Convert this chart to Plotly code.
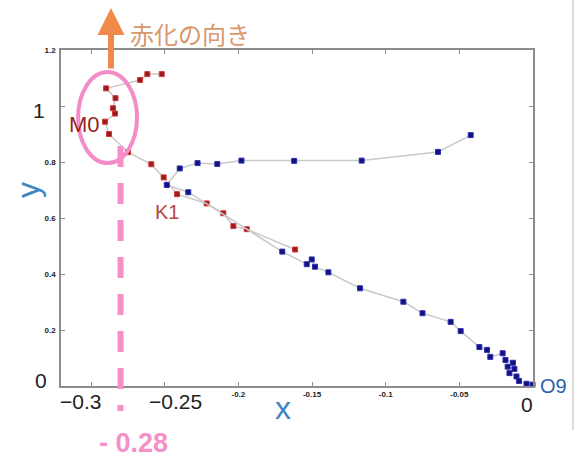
import plotly.graph_objects as go

# Red series (M0 -> K1 branch), ordered along its track
red_x = [-0.2520, -0.2618, -0.2667, -0.2898, -0.2834, -0.2851, -0.2837, -0.2905, -0.2878,
         -0.2749, -0.2591, -0.2507, -0.2416, -0.2215, -0.2102, -0.2034, -0.1943, -0.1615]
red_y = [1.114, 1.114, 1.093, 1.063, 1.028, 0.992, 0.973, 0.944, 0.900,
         0.835, 0.792, 0.745, 0.685, 0.652, 0.617, 0.571, 0.560, 0.4875]

# Blue series (upper branch -> O9), ordered along its track
blue_x = [-0.0423, -0.0645, -0.1163, -0.1621, -0.1979, -0.2143, -0.2277, -0.2398, -0.2486,
          -0.2340, -0.1702, -0.1536, -0.1502, -0.1480, -0.1389, -0.1174, -0.0880, -0.0750,
          -0.0559, -0.0491, -0.0364, -0.0312, -0.0290, -0.0206, -0.0187, -0.0136, -0.0172,
          -0.0126, -0.0160, -0.0112, -0.0095, -0.0044, -0.0003]
blue_y = [0.896, 0.836, 0.805, 0.804, 0.805, 0.793, 0.796, 0.777, 0.718,
          0.692, 0.480, 0.435, 0.452, 0.426, 0.406, 0.349, 0.301, 0.260,
          0.229, 0.196, 0.139, 0.129, 0.104, 0.117, 0.093, 0.083, 0.069,
          0.061, 0.046, 0.034, 0.018, 0.008, 0.005]

x_ticks = [-0.3, -0.25, -0.2, -0.15, -0.1, -0.05, 0.0]
x_tick_text = ["", "", "-0.2", "-0.15", "-0.1", "-0.05", ""]
y_ticks = [0.0, 0.2, 0.4, 0.6, 0.8, 1.0, 1.2]
y_tick_text = ["", "0.2", "0.4", "0.6", "0.8", "", "1.2"]

redshift_x = -0.28

W, H = 581, 464
L, R, T, B = 61, 533, 50, 386


def paper(px, py):
    return (px - L) / (R - L), (B - py) / (B - T)


fig = go.Figure()

fig.add_trace(go.Scatter(
    x=red_x, y=red_y, mode="lines+markers",
    line=dict(color="#c9c9c9", width=1.5),
    marker=dict(symbol="square", size=5, color="#9c1a1a", line=dict(color="#d23a3a", width=1)),
    cliponaxis=False, showlegend=False,
))
fig.add_trace(go.Scatter(
    x=blue_x, y=blue_y, mode="lines+markers",
    line=dict(color="#c9c9c9", width=1.5),
    marker=dict(symbol="square", size=5, color="#12127c", line=dict(color="#2f2fb4", width=1)),
    cliponaxis=False, showlegend=False,
))

axis_common = dict(
    showline=True, linecolor="#8c8c8c", linewidth=1.5, mirror="ticks",
    ticks="inside", ticklen=4, tickcolor="#8c8c8c", tickwidth=1,
    showgrid=False, zeroline=False,
    tickfont=dict(family="Liberation Sans", size=8, color="#222222", weight="bold"),
)

fig.update_xaxes(range=[-0.3204, 0.0], tickmode="array", tickvals=x_ticks,
                 ticktext=x_tick_text, **axis_common)
fig.update_yaxes(range=[0.0, 1.2], tickmode="array", tickvals=y_ticks,
                 ticktext=y_tick_text, ticklabelstandoff=2, **axis_common)

annotations = []


def label(text, px, py, size, color, bold=False, angle=0, family="Liberation Sans"):
    x, y = paper(px, py)
    annotations.append(dict(
        x=x, y=y, xref="paper", yref="paper", text=text, showarrow=False,
        xanchor="center", yanchor="middle", textangle=angle,
        font=dict(family=family, size=size, color=color, weight="bold" if bold else "normal"),
    ))


# large tick labels
label("\u22120.3", 80, 401, 21, "#222222")
label("\u22120.25", 175, 401, 21, "#222222")
label("0", 527, 404, 21, "#222222")
label("0", 41, 380, 21, "#222222")
label("1", 39, 110, 21, "#222222")

# axis names
label("x", 283, 408, 32, "#3d86c6")
label("y", 28, 190, 32, "#3d86c6", angle=-90)

# point names
label("M0", 84, 124, 22, "#962424")
label("K1", 167, 212, 20, "#b4483a")
label("O9", 553, 386, 20, "#2c5fb0")

# redshift direction
label("赤化の向き", 190, 34, 24, "#d9976c", family="Noto Sans CJK JP")
label("- 0.28", 133, 443, 27, "#f590c8", bold=True)

ax_, ay_ = paper(111, 8)
annotations.append(dict(
    x=ax_, y=ay_, xref="paper", yref="paper", text="", showarrow=True,
    ax=0, ay=62, axref="pixel", ayref="pixel",
    arrowhead=2, arrowsize=0.9, arrowwidth=6, arrowcolor="#f08a4b", standoff=0,
))

_, dash_top = paper(0, 146)
_, dash_bot = paper(0, 411)
_, border_top = paper(0, 0)
_, border_bot = paper(0, 430)
border_x, _ = paper(573, 0)

shapes = [
    # ellipse around the M0 turning point
    dict(type="circle", xref="x", yref="y", x0=-0.3088, x1=-0.2688, y0=0.796, y1=1.121,
         line=dict(color="#f48cc8", width=4)),
    # dashed marker at x = -0.28
    dict(type="line", xref="x", yref="paper", x0=redshift_x, x1=redshift_x,
         y0=dash_top, y1=dash_bot, line=dict(color="#f78fc6", width=6, dash="21px,16px")),
    # page border on the right
    dict(type="line", xref="paper", yref="paper", x0=border_x, x1=border_x,
         y0=border_top, y1=border_bot, line=dict(color="#cfcfcf", width=1.5)),
]

fig.update_layout(
    width=W, height=H,
    margin=dict(l=L, r=W - R, t=T, b=H - B),
    paper_bgcolor="white", plot_bgcolor="white",
    annotations=annotations, shapes=shapes,
)

fig.write_html("out.html")
